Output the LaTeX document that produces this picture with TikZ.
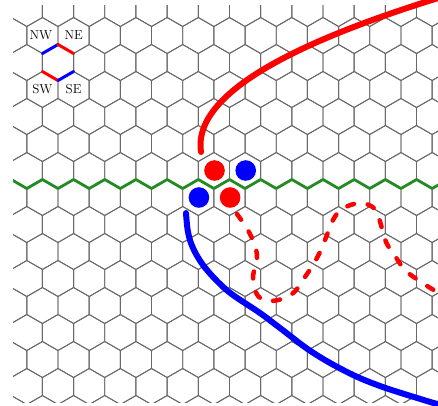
\documentclass[tikz,border=0pt]{standalone}
\usetikzlibrary{calc}
\definecolor{gridgray}{RGB}{105,105,105}
\definecolor{pathgreen}{RGB}{34,139,34}
\tikzset{
  hexline/.style={draw=gridgray, line width=0.9pt},
  sideedge/.style={line width=3pt, line cap=round},
  boundary/.style={draw=pathgreen, line width=2.8pt, line join=round},
  stone/.style={circle, inner sep=0pt, minimum size=20.6pt},
  thickcurve/.style={line width=6pt, line cap=round},
  dashcurve/.style={draw=red, line width=4.5pt, line cap=round, dash pattern=on 7pt off 14pt},
  dirlabel/.style={inner sep=0pt, font=\fontsize{13}{15}\selectfont}
}
\begin{document}
\begin{tikzpicture}[x=1pt, y=-1pt]
\useasboundingbox (0,0) rectangle (438,405);
% hexagonal grid
\begin{scope}
\clip (13,5) rectangle (438,402);
\foreach \j in {-2,...,13}{
  \foreach \i in {-3,...,14}{
    \pgfmathsetmacro\cx{58+31.177*\i+mod(\j+100,2)*15.588}
    \pgfmathsetmacro\cy{62.5+27*\j}
    \draw[hexline] (\cx,\cy-18) -- (\cx+15.588,\cy-9) -- (\cx+15.588,\cy+9) -- (\cx,\cy+18) -- (\cx-15.588,\cy+9) -- (\cx-15.588,\cy-9) -- cycle;
  }
}
% green boundary along bottom edges of row 4
\draw[boundary] (-4.4,188.5)
  \foreach \i in {-1,...,13}{ -- ({58+31.177*\i-15.588},179.5) -- ({58+31.177*\i},188.5) };
\end{scope}
% legend hexagon edges
\coordinate (ht) at (58,44.5);
\coordinate (hur) at (73.588,53.5);
\coordinate (hlr) at (73.588,71.5);
\coordinate (hb) at (58,80.5);
\coordinate (hll) at (42.412,71.5);
\coordinate (hul) at (42.412,53.5);
\draw[sideedge, blue] (hul) -- (ht);
\draw[sideedge, red] (ht) -- (hur);
\draw[sideedge, red] (hll) -- (hb);
\draw[sideedge, blue] (hb) -- (hlr);
\node[dirlabel] (nw) at (41,35.5) {NW};
\node[dirlabel] (ne) at (73.6,35.5) {NE};
\node[dirlabel] (sw) at (42.4,89.5) {SW};
\node[dirlabel] (se) at (73.6,89.5) {SE};
% stones
\node[stone, fill=red] (r1) at (214.53,170.5) {};
\node[stone, fill=blue] (b1) at (245.71,170.5) {};
\node[stone, fill=blue] (b2) at (198.94,197.5) {};
\node[stone, fill=red] (r2) at (230.12,197.5) {};
% red thick curve (sideways parabola)
\draw[thickcurve, red] plot[domain=152:-2, samples=80, smooth] ({200.5+0.011*(145-\x)*(145-\x)}, \x);
% blue thick curve
\draw[thickcurve, blue] plot[smooth, tension=0.6] coordinates {(186,213) (188,232) (193,248) (203,265) (218,282) (233,295) (260,313) (280,328) (312,352) (347,372) (380,386) (427,401) (448,407)};
% red dashed curve
\draw[dashcurve] plot[smooth, tension=0.6] coordinates {(237,214) (250,234) (257,255) (253,278) (258,296) (272,301) (292,294) (305,277) (318,256) (327,235) (333,220) (342,209) (360,203) (375,209) (381,225) (386,242) (395,256) (405,270) (418,280) (432,289) (448,298)};
\end{tikzpicture}
\end{document}
